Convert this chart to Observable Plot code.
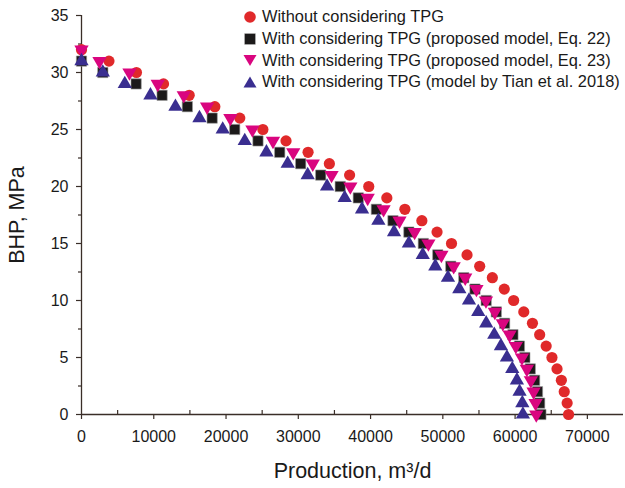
<!DOCTYPE html>
<html>
<head>
<meta charset="utf-8">
<script src="https://cdn.jsdelivr.net/npm/d3@7"></script>
<script src="https://cdn.jsdelivr.net/npm/@observablehq/plot@0.6"></script>
<style>
  html, body { margin: 0; padding: 0; background: #fff; }
  #wrap { position: relative; width: 625px; height: 488px; font-family: "Liberation Sans", Arial, sans-serif; }
  #legend { position: absolute; left: 242px; top: 6px; font-size: 16.4px; color: #1a1a1a; }
  #legend .row { display: flex; align-items: center; height: 21.7px; white-space: nowrap; }
  #legend svg { width: 16px; height: 16px; margin-right: 4px; overflow: visible; }
</style>
</head>
<body>
<div id="wrap"><div id="legend"></div></div>
<script>
// BHP levels (MPa)
const bhp32 = [32,31,30,29,28,27,26,25,24,23,22,21,20,19,18,17,16,15,14,13,12,11,10,9,8,7,6,5,4,3,2,1,0];
const bhp31 = [31,30,29,28,27,26,25,24,23,22,21,20,19,18,17,16,15,14,13,12,11,10,9,8,7,6,5,4,3,2,1,0];

// Production (m3/d)
const prodNoTPG = [0,3800,7600,11350,14900,18450,21900,25100,28300,31350,34300,37100,39750,42250,44750,47100,49200,51200,53350,55100,56850,58500,59800,61200,62400,63400,64300,65100,65800,66400,66800,67200,67400];
const prodEq22 = [0,2950,7560,11150,14650,18080,21200,24420,27430,30330,33100,35800,38300,40800,43100,45300,47300,49300,51100,52900,54450,56000,57400,58550,59700,60600,61350,62100,62700,63100,63400,63570];
const prodEq23 = [0,2490,6640,10550,14150,17380,20600,23650,26500,29300,32000,34600,37200,39600,41800,44000,46100,48000,49800,51500,53100,54650,55970,57200,58300,59240,60100,60950,61630,62180,62560,62830,62930];
const prodTian = [0,2950,5990,9540,13000,16320,19540,22590,25590,28530,31300,33980,36420,38820,41080,43250,45300,47220,48960,50710,52280,53620,54900,56000,57120,58040,58870,59610,60250,60620,61000,61080];

const seriesNames = [
  "Without considering TPG",
  "With considering TPG (proposed model, Eq. 22)",
  "With considering TPG (proposed model, Eq. 23)",
  "With considering TPG (model by Tian et al. 2018)"
];
const colors = ["#e0292a", "#1c1a1a", "#d9057f", "#3a2e90"];

const xTicks = [0,10000,20000,30000,40000,50000,60000,70000];
const xMinor = [5000,15000,25000,35000,45000,55000,65000];
const yTicks = [0,5,10,15,20,25,30,35];
const yMinor = [2.5,7.5,12.5,17.5,22.5,27.5,32.5];

const zip = (xs, ys) => xs.map((x, i) => ({x, y: ys[i]}));
const dRed = zip(prodNoTPG, bhp32);
const dBlack = zip(prodEq22, bhp31);
const dPink = zip(prodEq23, bhp32);
const dBlue = zip(prodTian, bhp31);

const axisColor = "#3a2e28";
const font = "Liberation Sans, Arial, sans-serif";

const chart = Plot.plot({
  width: 625,
  height: 488,
  marginLeft: 81,
  marginRight: 2,
  marginTop: 15,
  marginBottom: 74,
  style: { fontFamily: font, background: "white", color: "#1a1a1a" },
  x: { domain: [0, 75000] },
  y: { domain: [0, 35] },
  marks: [
    Plot.ruleY([0], { stroke: axisColor, strokeWidth: 1.3 }),
    Plot.ruleX([0], { stroke: axisColor, strokeWidth: 1.3 }),
    Plot.axisX({ ticks: xTicks, tickFormat: d => String(d), tickSize: 5, tickPadding: 11, fontSize: 16, stroke: axisColor, strokeWidth: 1.2, label: null }),
    Plot.axisX({ ticks: xMinor, tickSize: 4, text: null, dy: -4, stroke: axisColor, strokeWidth: 1.2, label: null }),
    Plot.axisX({ ticks: [], label: "Production, m³/d", labelAnchor: "center", labelArrow: "none", labelOffset: 63, fontSize: 21.5 }),
    Plot.axisY({ ticks: yTicks, tickFormat: d => String(d), tickSize: 5, tickPadding: 8, fontSize: 16, stroke: axisColor, strokeWidth: 1.2, label: null }),
    Plot.axisY({ ticks: yMinor, tickSize: 3, text: null, stroke: axisColor, strokeWidth: 1.2, label: null }),
    Plot.axisY({ ticks: [], label: "BHP, MPa", labelAnchor: "center", labelArrow: "none", labelOffset: 73, fontSize: 21.5 }),
    Plot.dot(dRed, { x: "x", y: "y", symbol: "circle", r: 5.6, fill: colors[0], stroke: "none" }),
    Plot.dot(dBlack, { x: "x", y: "y", symbol: "square", r: 5.8, fill: colors[1], stroke: "#9a9a9a", strokeWidth: 0.6 }),
    Plot.dot(dPink, { x: "x", y: "y", symbol: "triangle", rotate: 180, r: 5.3, fill: colors[2], stroke: "none" }),
    Plot.dot(dBlue, { x: "x", y: "y", symbol: "triangle", r: 5.3, fill: colors[3], stroke: "none" })
  ]
});
document.getElementById("wrap").prepend(chart);

// Legend
const shapes = [
  `<circle cx="8" cy="8" r="5.8" fill="${colors[0]}"/>`,
  `<rect x="2.7" y="2.7" width="10.6" height="10.6" fill="${colors[1]}" stroke="#9a9a9a" stroke-width="0.6"/>`,
  `<path d="M1.5,3 L14.5,3 L8,14 Z" fill="${colors[2]}"/>`,
  `<path d="M1.5,13.5 L14.5,13.5 L8,2.5 Z" fill="${colors[3]}"/>`
];
const legend = document.getElementById("legend");
seriesNames.forEach((name, i) => {
  const row = document.createElement("div");
  row.className = "row";
  row.innerHTML = `<svg viewBox="0 0 16 16">${shapes[i]}</svg><span>${name}</span>`;
  legend.appendChild(row);
});
</script>
</body>
</html>
